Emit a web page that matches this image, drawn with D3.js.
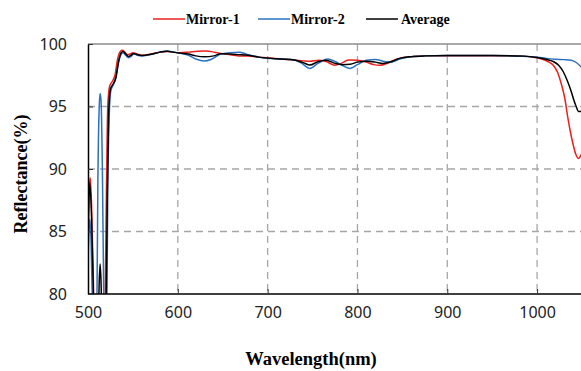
<!DOCTYPE html>
<html>
<head>
<meta charset="utf-8">
<script src="https://cdn.jsdelivr.net/npm/d3@7"></script>
<style>
  body { margin: 0; background: #fff; }
  svg { display: block; }
</style>
</head>
<body>
<svg id="svg" width="581" height="371"></svg>
<script>
const w = 581;
const h = 371;
const margin = { top: 44, right: 0, bottom: 77, left: 88 };

// wavelength (nm) / reflectance (%)
const mirror1X = [500, 501, 502.5, 504, 506, 508, 512, 516, 519, 520.5, 522, 524, 527, 530, 533, 536, 538.5, 541, 544, 547, 550, 553, 557, 562, 570, 580, 588, 595, 602, 612, 622, 632, 640, 648, 657, 668, 678, 690, 700, 715, 730, 740, 747, 757, 765, 775, 782, 790, 800, 810, 818, 825, 833, 842, 850, 862, 875, 900, 950, 980, 995, 1005, 1012, 1018, 1023, 1027, 1031, 1034, 1037, 1040, 1043, 1046, 1048, 1050];
const mirror1Y = [85, 88, 89.3, 87, 81, 72, 68, 72, 79, 88, 95, 96.6, 97.0, 97.5, 98.8, 99.4, 99.5, 99.35, 99.15, 99.2, 99.3, 99.25, 99.15, 99.1, 99.2, 99.35, 99.4, 99.35, 99.3, 99.35, 99.42, 99.45, 99.35, 99.25, 99.15, 99.05, 99.05, 98.95, 98.9, 98.8, 98.72, 98.65, 98.62, 98.7, 98.6, 98.3, 98.45, 98.72, 98.7, 98.55, 98.35, 98.3, 98.45, 98.75, 98.9, 99.0, 99.05, 99.07, 99.07, 99.05, 98.95, 98.8, 98.6, 98.3, 97.7, 96.8, 95.6, 94.2, 93.0, 92.0, 91.2, 90.85, 91.0, 91.3];

const mirror2X = [500, 502, 503.5, 505, 508, 510, 511, 512.5, 513.5, 514.5, 516, 517.5, 519, 521, 522, 523.5, 525.5, 528, 531, 534, 537, 539, 542, 545, 548, 551, 555, 560, 570, 580, 588, 596, 603, 612, 620, 630, 638, 648, 658, 668, 678, 690, 700, 715, 730, 738, 747, 756, 767, 775, 784, 792, 800, 810, 820, 830, 838, 847, 860, 875, 900, 950, 1000, 1010, 1020, 1030, 1038, 1044, 1050];
const mirror2Y = [82.7, 86, 84, 79, 76, 80, 89, 95, 96.05, 95.5, 90, 80, 74, 79, 88, 94, 96.3, 96.7, 97.3, 98.5, 99.2, 99.3, 99.1, 98.9, 99.0, 99.2, 99.1, 99.05, 99.15, 99.35, 99.45, 99.35, 99.25, 99.1, 98.8, 98.64, 98.8, 99.2, 99.3, 99.35, 99.15, 98.95, 98.85, 98.8, 98.72, 98.45, 98.05, 98.45, 98.8, 98.6, 98.25, 98.05, 98.35, 98.7, 98.77, 98.6, 98.55, 98.8, 98.98, 99.05, 99.08, 99.08, 98.95, 98.85, 98.78, 98.75, 98.7, 98.5, 98.1];

const averageX = [500, 502, 504, 506, 508, 511, 512.5, 513.5, 514.5, 516, 518, 520, 521.5, 523, 525, 528, 531, 534, 537, 539, 542, 545, 548, 551, 555, 560, 570, 580, 588, 596, 603, 612, 620, 630, 640, 648, 658, 668, 678, 690, 700, 715, 730, 740, 747, 756, 765, 775, 783, 792, 800, 810, 820, 828, 838, 847, 860, 875, 900, 950, 985, 1000, 1010, 1018, 1024, 1029, 1034, 1038, 1041, 1044, 1046, 1048, 1050];
const averageY = [84, 88.9, 86, 80, 74, 76, 81, 82.4, 81, 76, 72, 78, 88, 94.5, 96.4, 96.8, 97.3, 98.6, 99.3, 99.4, 99.2, 99.0, 99.1, 99.25, 99.15, 99.08, 99.18, 99.35, 99.42, 99.33, 99.27, 99.2, 99.05, 98.98, 99.05, 99.22, 99.2, 99.15, 99.1, 98.95, 98.87, 98.8, 98.72, 98.5, 98.32, 98.58, 98.7, 98.45, 98.35, 98.38, 98.55, 98.62, 98.55, 98.45, 98.6, 98.85, 98.99, 99.05, 99.08, 99.08, 99.03, 98.92, 98.78, 98.6, 98.3, 97.8, 97.0, 96.2, 95.5, 94.9, 94.6, 94.6, 94.7];

const seriesNames = ["Mirror-1", "Mirror-2", "Average"];
const seriesColors = ["#e8201c", "#2a72c0", "#000000"];
const xTicks = [500, 600, 700, 800, 900, 1000];
const yTicks = [80, 85, 90, 95, 100];

const series = [
  { name: seriesNames[0], color: seriesColors[0], xs: mirror1X, ys: mirror1Y },
  { name: seriesNames[1], color: seriesColors[1], xs: mirror2X, ys: mirror2Y },
  { name: seriesNames[2], color: seriesColors[2], xs: averageX, ys: averageY },
];

let svg = d3.select("#svg");

let xScale = d3.scaleLinear([500, 1050], [margin.left, margin.left + 494]);
let yScale = d3.scaleLinear([80, 100], [h - margin.bottom, margin.top]);

// Clip path
svg
  .append("clipPath")
  .attr("id", "chart-area")
  .append("rect")
  .attr("x", margin.left)
  .attr("y", margin.top)
  .attr("width", w - margin.left)
  .attr("height", h - margin.bottom - margin.top);

// grid
const grid = svg.append("g");
grid
  .selectAll(".vg")
  .data(xTicks.slice(1))
  .join("line")
  .attr("x1", (d) => xScale(d))
  .attr("x2", (d) => xScale(d))
  .attr("y1", margin.top)
  .attr("y2", h - margin.bottom)
  .attr("stroke", "#a6a6a6")
  .attr("stroke-width", 1.3)
  .attr("stroke-dasharray", "7,5");
grid
  .selectAll(".hg")
  .data(yTicks.slice(1, -1))
  .join("line")
  .attr("x1", margin.left)
  .attr("x2", w)
  .attr("y1", (d) => yScale(d))
  .attr("y2", (d) => yScale(d))
  .attr("stroke", "#a6a6a6")
  .attr("stroke-width", 1.3)
  .attr("stroke-dasharray", "7,5");

// top border
svg
  .append("line")
  .attr("x1", margin.left)
  .attr("x2", w)
  .attr("y1", yScale(100))
  .attr("y2", yScale(100))
  .attr("stroke", "#8c8c8c")
  .attr("stroke-width", 1.3);

// lines
let lineFunc = d3
  .line()
  .x((d) => xScale(d[0]))
  .y((d) => yScale(d[1]))
  .curve(d3.curveMonotoneX);

svg
  .append("g")
  .attr("clip-path", "url(#chart-area)")
  .selectAll("path")
  .data(series)
  .join("path")
  .attr("fill", "none")
  .attr("stroke", (d) => d.color)
  .attr("stroke-width", 1.5)
  .attr("d", (d) => lineFunc(d.xs.map((x, i) => [x, d.ys[i]])));

// axes
const tickFont = "'Noto Sans', sans-serif";
let xAxis = svg
  .append("g")
  .attr("transform", `translate(0,${h - margin.bottom})`)
  .call(d3.axisBottom(xScale).tickValues(xTicks).tickFormat(d3.format("d")).tickSizeInner(-5).tickSizeOuter(0).tickPadding(13));
let yAxis = svg
  .append("g")
  .attr("transform", `translate(${margin.left},0)`)
  .call(d3.axisLeft(yScale).tickValues(yTicks).tickSizeInner(-5).tickSizeOuter(0).tickPadding(21));

[xAxis, yAxis].forEach((a) => {
  a.select(".domain").attr("stroke", "#000").attr("stroke-width", 1.5);
  a.selectAll(".tick line").attr("stroke", "#333");
  a.selectAll(".tick text")
    .attr("fill", "#222")
    .style("font-family", tickFont)
    .style("font-size", "16px");
});
xAxis.select(".domain").attr("d", `M${margin.left},0H${w}`);

// axis titles
const titleFont = "'Liberation Serif', 'DejaVu Serif', serif";
svg
  .append("text")
  .attr("x", 311)
  .attr("y", 365)
  .attr("text-anchor", "middle")
  .style("font-family", titleFont)
  .style("font-weight", "bold")
  .style("font-size", "18.5px")
  .text("Wavelength(nm)");

svg
  .append("text")
  .attr("transform", "translate(27,174) rotate(-90)")
  .attr("text-anchor", "middle")
  .style("font-family", titleFont)
  .style("font-weight", "bold")
  .style("font-size", "18px")
  .text("Reflectance(%)");

// legend
const legendX = [153, 258, 366];
const legend = svg
  .append("g")
  .selectAll("g")
  .data(series)
  .join("g")
  .attr("transform", (d, i) => `translate(${legendX[i]},19)`);
legend
  .append("line")
  .attr("x1", 0)
  .attr("x2", 32)
  .attr("stroke", (d) => d.color)
  .attr("stroke-width", 1.5);
legend
  .append("text")
  .attr("x", (d, i) => (i == 2 ? 35 : 33))
  .attr("y", 5)
  .style("font-family", titleFont)
  .style("font-weight", "bold")
  .style("font-size", "14px")
  .text((d) => d.name);
</script>
</body>
</html>
